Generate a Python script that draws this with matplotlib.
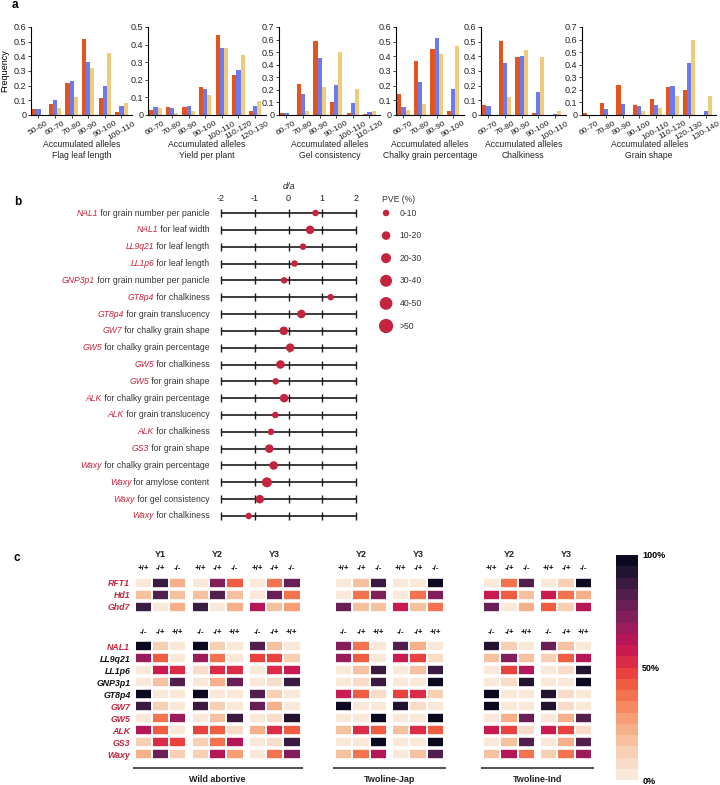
import numpy as np
import matplotlib
matplotlib.use("Agg")
import matplotlib.pyplot as plt
import seaborn as sns
from matplotlib.colors import ListedColormap, Normalize
from matplotlib.cm import ScalarMappable

plt.rcParams['font.family'] = ['Liberation Sans', 'DejaVu Sans']

# ---------------- panel a : allele frequency bars (3 series per bin)
flag_bins = ["50-60", "60-70", "70-80", "80-90", "90-100", "100-110"]
flag_vals = [[0.04, 0.075, 0.22, 0.515, 0.115, 0.02],
             [0.04, 0.10, 0.23, 0.36, 0.20, 0.06],
             [0.0, 0.05, 0.125, 0.32, 0.42, 0.085]]
yield_bins = ["60-70", "70-80", "80-90", "90-100", "100-110", "110-120", "120-130"]
yield_vals = [[0.03, 0.045, 0.045, 0.16, 0.455, 0.225, 0.023],
              [0.045, 0.04, 0.05, 0.15, 0.38, 0.255, 0.053],
              [0.04, 0.01, 0.02, 0.115, 0.38, 0.34, 0.08]]
gel_bins = ["60-70", "70-80", "80-90", "90-100", "100-110", "110-120"]
gel_vals = [[0.015, 0.25, 0.59, 0.105, 0.015, 0.005],
            [0.012, 0.165, 0.45, 0.24, 0.095, 0.022],
            [0.0, 0.03, 0.22, 0.505, 0.21, 0.028]]
chalkyp_bins = ["60-70", "70-80", "80-90", "90-100"]
chalkyp_vals = [[0.14, 0.365, 0.45, 0.03],
                [0.055, 0.225, 0.525, 0.175],
                [0.035, 0.075, 0.415, 0.47]]
chalk_bins = ["60-70", "70-80", "80-90", "90-100", "100-110"]
chalk_vals = [[0.07, 0.505, 0.395, 0.015, 0.0],
              [0.06, 0.355, 0.405, 0.155, 0.01],
              [0.0, 0.125, 0.445, 0.395, 0.03]]
shape_bins = ["60-70", "70-80", "80-90", "90-100", "100-110", "110-120", "120-130", "130-140"]
shape_vals = [[0.015, 0.095, 0.235, 0.08, 0.125, 0.225, 0.20, 0.0],
              [0.0, 0.05, 0.09, 0.07, 0.08, 0.23, 0.415, 0.035],
              [0.0, 0.0, 0.0, 0.035, 0.055, 0.15, 0.595, 0.15]]
a_traits = ["Flag leaf length", "Yield per plant", "Gel consistency",
            "Chalky grain percentage", "Chalkiness", "Grain shape"]
a_ymax = [0.6, 0.5, 0.7, 0.6, 0.6, 0.7]

# ---------------- panel b : d/a with PVE classes
b_genes = ["NAL1", "NAL1", "LL9q21", "LL1p6", "GNP3p1", "GT8p4", "GT8p4", "GW7",
           "GW5", "GW5", "GW5", "ALK", "ALK", "ALK", "GS3", "Waxy", "Waxy", "Waxy", "Waxy"]
b_traits = ["for grain number per panicle", "for leaf width", "for leaf length",
            "for leaf length", "forr grain number per panicle", "for chalkiness",
            "for grain translucency", "for chalky grain shape", "for chalky grain percentage",
            "for chalkiness", "for grain shape", "for chalky grain percentage",
            "for grain translucency", "for chalkiness", "for grain shape",
            "for chalky grain percentage", "for amylose content", "for gel consistency",
            "for chalkiness"]
b_da = [0.80, 0.64, 0.43, 0.18, -0.13, 1.25, 0.38, -0.14, 0.05, -0.24,
        -0.38, -0.13, -0.39, -0.52, -0.57, -0.44, -0.64, -0.85, -1.18]
b_pve = [0, 1, 0, 0, 0, 0, 1, 1, 1, 1, 0, 1, 0, 0, 1, 1, 2, 1, 0]
pve_labels = ["0-10", "10-20", "20-30", "30-40", "40-50", ">50"]
pve_sizes = [22, 38, 52, 74, 84, 105]

# ---------------- panel c : genotype frequency heatmaps (columns: years x genotypes)
top_genes = ["RFT1", "Hd1", "Ghd7"]
bot_genes = ["NAL1", "LL9q21", "LL1p6", "GNP3p1", "GT8p4", "GW7", "GW5", "ALK", "GS3", "Waxy"]
bot_gene_red = [True, False, False, False, False, True, True, True, True, True]
top_geno = ["+/+", "-/+", "-/-"]
bot_geno = ["-/-", "-/+", "+/+"]

wa_top = np.array([
    [0.03, 0.85, 0.20, 0.03, 0.70, 0.40, 0.03, 0.35, 0.75],
    [0.15, 0.80, 0.15, 0.15, 0.80, 0.15, 0.03, 0.75, 0.35],
    [0.85, 0.03, 0.20, 0.85, 0.03, 0.20, 0.60, 0.15, 0.25]])
wa_bot = np.array([
    [0.95, 0.11, 0.03, 0.95, 0.11, 0.03, 0.82, 0.15, 0.03],
    [0.65, 0.40, 0.03, 0.65, 0.38, 0.03, 0.45, 0.45, 0.11],
    [0.03, 0.55, 0.50, 0.09, 0.50, 0.50, 0.03, 0.52, 0.58],
    [0.03, 0.17, 0.80, 0.03, 0.23, 0.75, 0.03, 0.09, 0.85],
    [1.00, 0.02, 0.02, 1.00, 0.02, 0.02, 0.80, 0.13, 0.03],
    [0.88, 0.13, 0.03, 0.88, 0.13, 0.03, 0.78, 0.20, 0.03],
    [0.03, 0.38, 0.68, 0.03, 0.15, 0.85, 0.03, 0.09, 0.90],
    [0.60, 0.40, 0.03, 0.48, 0.44, 0.09, 0.23, 0.52, 0.40],
    [0.13, 0.50, 0.45, 0.11, 0.38, 0.62, 0.03, 0.09, 0.88],
    [0.23, 0.75, 0.11, 0.13, 0.60, 0.25, 0.03, 0.38, 0.72]])
jap_top = np.array([
    [0.03, 0.15, 0.88, 0.03, 0.03, 1.00],
    [0.03, 0.35, 0.72, 0.03, 0.35, 0.72],
    [0.75, 0.15, 0.15, 0.55, 0.17, 0.35]])
jap_bot = np.array([
    [0.72, 0.35, 0.03, 0.80, 0.23, 0.03],
    [0.65, 0.42, 0.03, 0.55, 0.47, 0.09],
    [0.03, 0.15, 0.88, 0.03, 0.15, 0.85],
    [0.03, 0.09, 0.88, 0.03, 0.03, 0.95],
    [0.55, 0.42, 0.09, 0.47, 0.52, 0.13],
    [1.00, 0.02, 0.02, 0.90, 0.09, 0.03],
    [0.02, 0.02, 0.95, 0.02, 0.03, 0.95],
    [0.15, 0.52, 0.40, 0.15, 0.52, 0.40],
    [0.02, 0.02, 0.98, 0.02, 0.02, 0.98],
    [0.15, 0.38, 0.62, 0.03, 0.17, 0.82]])
ind_top = np.array([
    [0.03, 0.38, 0.80, 0.03, 0.11, 0.95],
    [0.55, 0.40, 0.15, 0.55, 0.35, 0.23],
    [0.78, 0.03, 0.20, 0.40, 0.11, 0.60]])
ind_bot = np.array([
    [0.92, 0.11, 0.03, 0.78, 0.17, 0.03],
    [0.17, 0.72, 0.17, 0.11, 0.42, 0.60],
    [0.03, 0.45, 0.60, 0.03, 0.09, 0.92],
    [0.03, 0.09, 0.90, 0.03, 0.03, 1.00],
    [0.98, 0.02, 0.02, 0.92, 0.09, 0.03],
    [0.98, 0.02, 0.02, 0.92, 0.09, 0.03],
    [0.03, 0.23, 0.78, 0.03, 0.23, 0.80],
    [0.55, 0.45, 0.09, 0.55, 0.45, 0.09],
    [0.03, 0.17, 0.82, 0.03, 0.23, 0.80],
    [0.15, 0.62, 0.35, 0.13, 0.38, 0.65]])

W, H = 720, 785
fig = plt.figure(figsize=(7.2, 7.85), dpi=100)


def box(l, t, r, b):
    # pixel box -> figure fraction
    return [l / W, 1 - b / H, (r - l) / W, (b - t) / H]


red = "#C4243D"
ink = "#333333"

# ===== panel a
bar_cols = ["#E4541E", "#6A7BEF", "#F2CA7B"]
a_bins = [flag_bins, yield_bins, gel_bins, chalkyp_bins, chalk_bins, shape_bins]
a_vals = [flag_vals, yield_vals, gel_vals, chalkyp_vals, chalk_vals, shape_vals]
a_left = [31, 148, 279, 396, 481, 582]
step = 16.6
for k in range(6):
    n = len(a_bins[k])
    l = a_left[k]
    ax = fig.add_axes(box(l, 27, l + (n + 0.1) * step, 115))
    x = np.arange(n)
    for j in range(3):
        ax.bar(x + (j - 1) * 0.25, a_vals[k][j], width=0.25, color=bar_cols[j])
    ax.set_xlim(-0.45, n - 0.35)
    ax.set_ylim(0, a_ymax[k])
    yt = np.round(np.arange(0, a_ymax[k] + 0.01, 0.1), 1)
    ax.set_yticks(yt)
    ax.set_yticklabels(["0"] + [f"{v:.1f}" for v in yt[1:]], fontsize=6.5)
    ax.set_xticks(x)
    ax.set_xticklabels(a_bins[k], rotation=30, ha="center", fontsize=6)
    ax.tick_params(axis="both", length=2, width=0.6, pad=1.5, colors="#222")
    for s in ["top", "right"]:
        ax.spines[s].set_visible(False)
    for s in ["left", "bottom"]:
        ax.spines[s].set_linewidth(0.8)
    ax.annotate("Accumulated alleles", xy=(0.5, 0), xycoords="axes fraction",
                xytext=(0, -21), textcoords="offset points", ha="center", va="center",
                fontsize=6.2, color="#222")
    ax.annotate(a_traits[k], xy=(0.5, 0), xycoords="axes fraction",
                xytext=(0, -29), textcoords="offset points", ha="center", va="center",
                fontsize=6.2, color="#222")
    if k == 0:
        ax.set_ylabel("Frequency", fontsize=6.5, labelpad=3)

# ===== panel b
axb = fig.add_axes(box(217.6, 204.6, 359.4, 524.4))
rows = np.arange(len(b_da))
axb.hlines(rows, -2, 2, color="#1a1a1a", lw=1.2)
for t in range(-2, 3):
    axb.plot(np.full(len(rows), t), rows, ls="none", marker="|", ms=5.5, mew=1,
             color="#1a1a1a")
axb.scatter(b_da, rows, s=[pve_sizes[c] for c in b_pve], color=red, lw=0, zorder=3)
axb.set_xlim(-2.1, 2.1)
axb.set_ylim(len(rows) - 0.5, -0.5)
axb.xaxis.tick_top()
axb.xaxis.set_label_position("top")
axb.set_xticks(range(-2, 3))
axb.set_xticklabels([str(t) for t in range(-2, 3)], fontsize=6.5)
axb.tick_params(axis="x", length=0, pad=1, colors="#222")
axb.set_xlabel("d/a", fontsize=6.5, fontstyle="italic", labelpad=4, color="#222")
axb.set_yticks([])
for s in axb.spines.values():
    s.set_visible(False)
for i in rows:
    txt = axb.annotate(" " + b_traits[i], xy=(0, i), xycoords=("axes fraction", "data"),
                       xytext=(-5.8, 0), textcoords="offset points", ha="right",
                       va="center", fontsize=6.2, color=ink)
    axb.annotate(b_genes[i], xy=(0, 0.5), xycoords=txt, ha="right", va="center",
                 fontsize=6.2, fontstyle="italic", color=red)

# legend for PVE
axl = fig.add_axes(box(378, 201.7, 440, 337.3))
lr = np.arange(len(pve_labels))
axl.scatter(np.full(len(lr), 0.13), lr, s=pve_sizes, color=red, lw=0)
for i in lr:
    axl.text(0.35, i, pve_labels[i], fontsize=6.2, va="center", ha="left", color=ink)
axl.set_xlim(0, 1)
axl.set_ylim(len(lr) - 0.5, -0.5)
axl.axis("off")
axl.annotate("PVE (%)", xy=(0.06, 1), xycoords="axes fraction", xytext=(0, 1.6),
             textcoords="offset points", fontsize=6.2, va="center", ha="left", color=ink)

# ===== panel c
rocket = sns.color_palette("rocket_r", as_cmap=True)
cmap = ListedColormap([rocket(((i + 0.5) / 20) ** 1.25) for i in range(20)])
norm = Normalize(0, 1)


def heat_block(l, t, b, vals, geno, year=None, genes=None, gene_cols=None):
    ax = fig.add_axes(box(l, t, l + 52, b))
    nr = vals.shape[0]
    ax.pcolormesh(vals, cmap=cmap, norm=norm, edgecolors="white", linewidth=0.3)
    ax.hlines(np.arange(nr + 1), 0, 3, color="white", lw=2.6)
    ax.set_xlim(0, 3)
    ax.set_ylim(nr, 0)
    for s in ax.spines.values():
        s.set_visible(False)
    ax.xaxis.tick_top()
    ax.set_xticks([0.5, 1.5, 2.5])
    ax.set_xticklabels(geno, fontsize=5.7, fontweight="bold")
    ax.tick_params(axis="x", length=0, pad=3)
    if genes is None:
        ax.set_yticks([])
    else:
        ax.set_yticks(np.arange(nr) + 0.5)
        ax.set_yticklabels(genes, fontsize=6.3, fontweight="bold", fontstyle="italic")
        for lab, c in zip(ax.get_yticklabels(), gene_cols):
            lab.set_color(c)
        ax.tick_params(axis="y", length=0, pad=3)
    if year is not None:
        ax.annotate(year, xy=(0.5, 1), xycoords="axes fraction", xytext=(0, 16),
                    textcoords="offset points", ha="center", va="center",
                    fontsize=6.5, fontweight="bold", color="#222")


groups = [("Wild abortive", ["Y1", "Y2", "Y3"], wa_top, wa_bot, 134.5),
          ("Twoline-Jap", ["Y2", "Y3"], jap_top, jap_bot, 335),
          ("Twoline-Ind", ["Y2", "Y3"], ind_top, ind_bot, 483)]
for gname, years, gtop, gbot, gx in groups:
    for k, yr in enumerate(years):
        l = gx + k * 57
        first = (gname == "Wild abortive" and k == 0)
        heat_block(l, 576.5, 576.5 + 3 * 12.2, gtop[:, 3 * k:3 * k + 3], top_geno, year=yr,
                   genes=top_genes if first else None, gene_cols=[red] * 3)
        heat_block(l, 640.0, 640.0 + 10 * 12.03, gbot[:, 3 * k:3 * k + 3], bot_geno,
                   genes=bot_genes if first else None,
                   gene_cols=[red if r else "#111" for r in bot_gene_red])
    right = gx + (len(years) - 1) * 57 + 52
    axg = fig.add_axes(box(gx - 1, 768.3, right + 1, 785))
    axg.set_xticks([])
    axg.set_yticks([])
    for s in ["left", "right", "bottom"]:
        axg.spines[s].set_visible(False)
    axg.spines["top"].set_color("#555")
    axg.spines["top"].set_linewidth(1.5)
    axg.patch.set_visible(False)
    axg.text(0.5, 0.3, gname, transform=axg.transAxes, ha="center", va="center",
             fontsize=6.5, fontweight="bold", color="#222")

cax = fig.add_axes(box(616, 555, 638, 780))
cb = fig.colorbar(ScalarMappable(norm=norm, cmap=cmap), cax=cax, ticks=[0, 0.5, 1])
cb.ax.set_yticklabels(["0%", "50%", "100%"], fontsize=6.5, fontweight="bold")
cb.ax.tick_params(length=0, pad=3)
cb.outline.set_visible(False)

# panel letters
fig.text(15 / W, 1 - 5 / H, "a", fontsize=8.5, fontweight="bold", ha="center", va="center")
fig.text(18 / W, 1 - 202 / H, "b", fontsize=8.5, fontweight="bold", ha="center", va="center")
fig.text(17 / W, 1 - 558 / H, "c", fontsize=8.5, fontweight="bold", ha="center", va="center")

fig.savefig("out.png", dpi=100)
